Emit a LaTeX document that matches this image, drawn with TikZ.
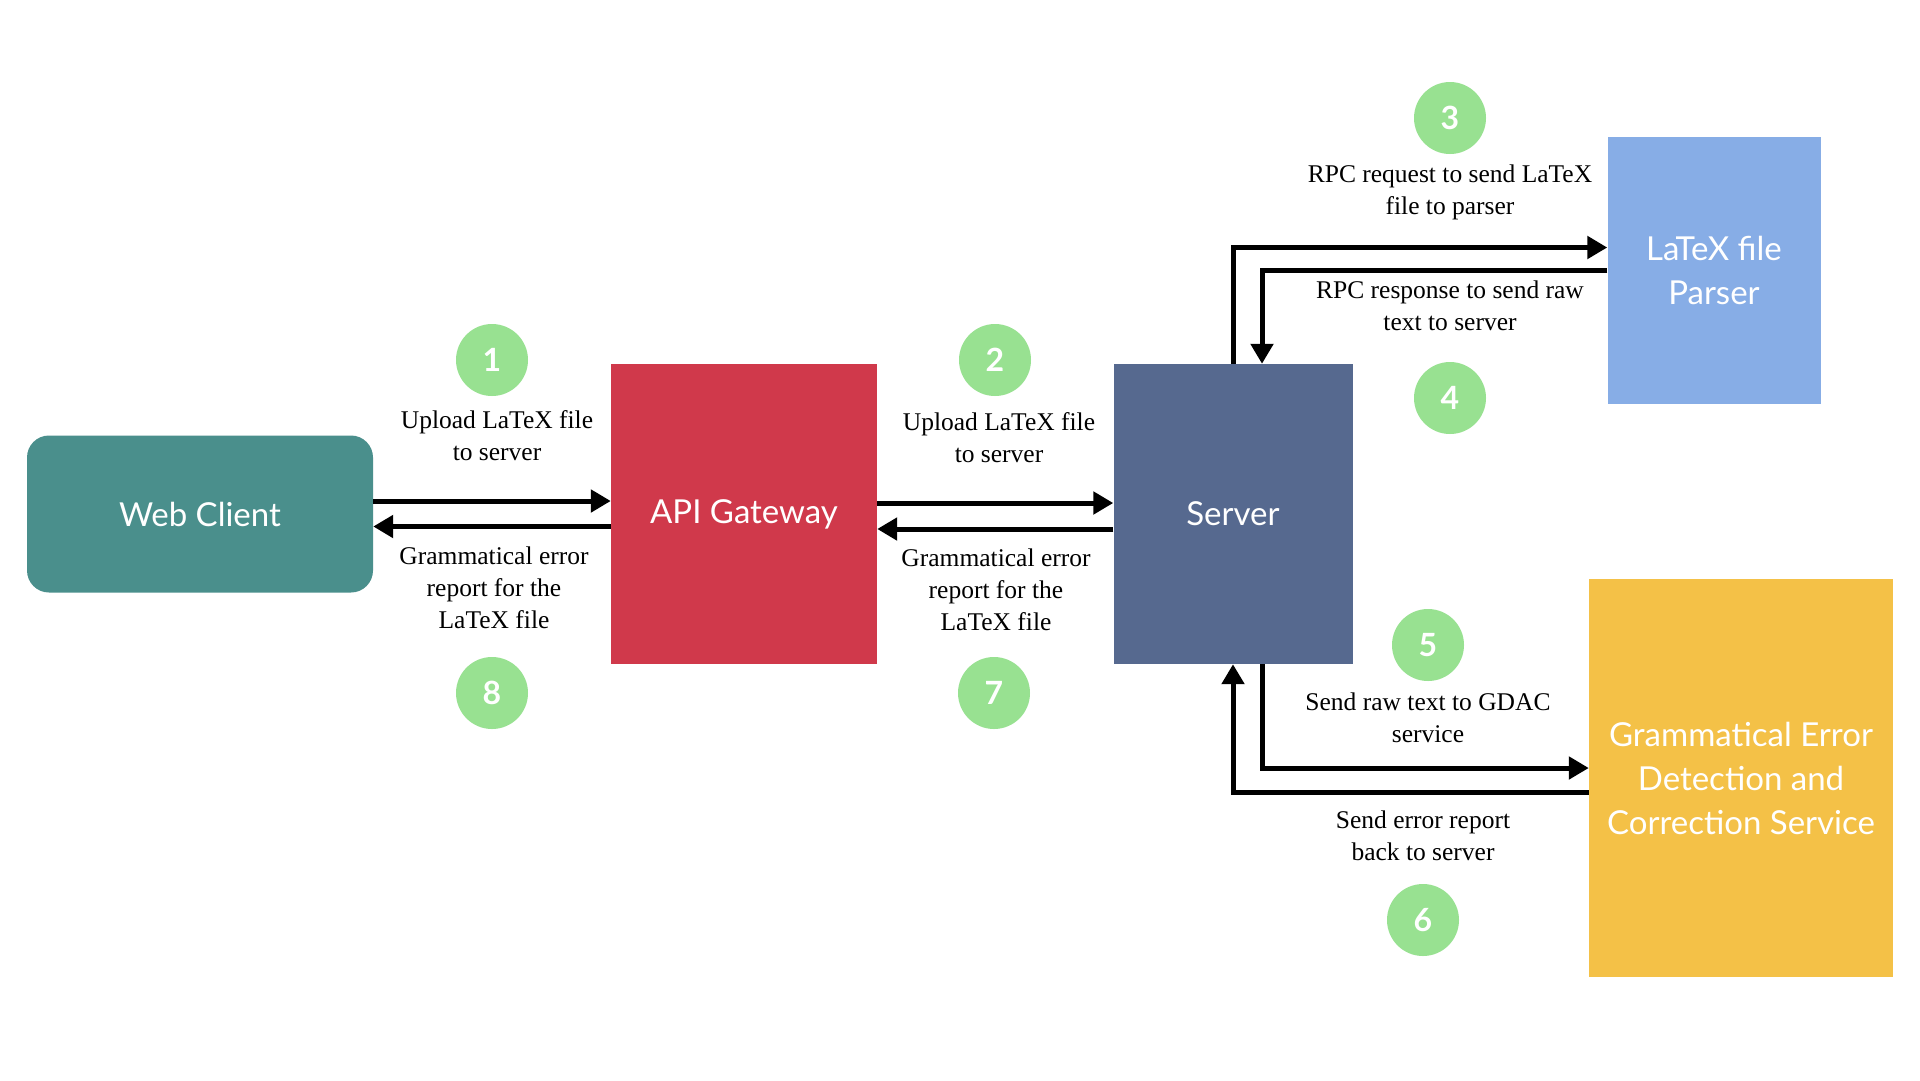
\documentclass[tikz,border=0pt]{standalone}
\usepackage{fontspec}
\setmainfont{Liberation Serif}
\newfontfamily\boxfont{Lato}
\usetikzlibrary{arrows.meta,positioning}
\definecolor{clientteal}{HTML}{4A8F8C}
\definecolor{gatewayred}{HTML}{D0394B}
\definecolor{serverblue}{HTML}{56698F}
\definecolor{parserblue}{HTML}{87ADE6}
\definecolor{gedcyellow}{HTML}{F4C147}
\definecolor{stepgreen}{HTML}{98E191}
\begin{document}
\begin{tikzpicture}[x=1pt,y=-1pt,
    blk/.style={inner sep=0pt, text=white, align=center, font=\boxfont\fontsize{33}{44}\selectfont},
    num/.style={circle, fill=stepgreen, minimum size=72pt, inner sep=0pt, text=white, font=\boxfont\bfseries\fontsize{32}{32}\selectfont},
    lbl/.style={align=center, inner sep=0pt, font=\fontsize{25.5}{32}\selectfont},
    flow/.style={line width=5pt, -{Triangle[length=20pt,width=22pt]}}]
    \useasboundingbox[fill=white] (0,0) rectangle (1920,1080);
    % boxes
    \node[blk, fill=clientteal, rounded corners=22pt, minimum width=346pt, minimum height=157pt] (client) at (200,514) {Web Client};
    \node[blk, fill=gatewayred, minimum width=266pt, minimum height=300pt] (gateway) at (744,514) {API Gateway};
    \node[blk, fill=serverblue, minimum width=239pt, minimum height=300pt] (server) at (1233,514) {Server};
    \node[blk, fill=parserblue, minimum width=213pt, minimum height=267pt] (parser) at (1714,270) {LaTeX file\\Parser};
    \node[blk, fill=gedcyellow, minimum width=304pt, minimum height=398pt] (gedc) at (1741,778) {Grammatical Error\\Detection and\\Correction Service};
    % step numbers
    \node[num] (n1) at (492,360) {1};
    \node[num] (n2) at (995,360) {2};
    \node[num] (n3) at (1450,118) {3};
    \node[num] (n4) at (1450,398) {4};
    \node[num] (n5) at (1428,645) {5};
    \node[num] (n6) at (1423,920) {6};
    \node[num] (n7) at (994,693) {7};
    \node[num] (n8) at (492,693) {8};
    % labels
    \node[lbl] (t1) at (497,436) {Upload LaTeX file\\to server};
    \node[lbl] (t8) at (494,588) {Grammatical error\\report for the\\LaTeX file};
    \node[lbl] (t2) at (999,438) {Upload LaTeX file\\to server};
    \node[lbl] (t7) at (996,590) {Grammatical error\\report for the\\LaTeX file};
    \node[lbl] (t3) at (1450,192) {RPC request to send LaTeX\\file to parser};
    \node[lbl] (t4) at (1450,306) {RPC response to send raw\\text to server};
    \node[lbl] (t5) at (1428,718) {Send raw text to GDAC\\service};
    \node[lbl] (t6) at (1423,836) {Send error report\\back to server};
    % connectors
    \draw[flow] ([yshift=13pt]client.east) -- ([yshift=13pt]gateway.west);
    \draw[flow] ([yshift=-12.5pt]gateway.west) -- ([yshift=-12.5pt]client.east);
    \draw[flow] ([yshift=11pt]gateway.east) -- ([yshift=11pt]server.west);
    \draw[flow] ([yshift=-15pt]server.west) -- ([yshift=-15pt]gateway.east);
    \draw[flow] (server.north) |- ([yshift=22.5pt]parser.west);
    \draw[flow] (parser.west) -| ([xshift=29pt]server.north);
    \draw[flow] ([xshift=29pt]server.south) |- ([yshift=10pt]gedc.west);
    \draw[flow] ([yshift=-14pt]gedc.west) -| (server.south);
\end{tikzpicture}
\end{document}
